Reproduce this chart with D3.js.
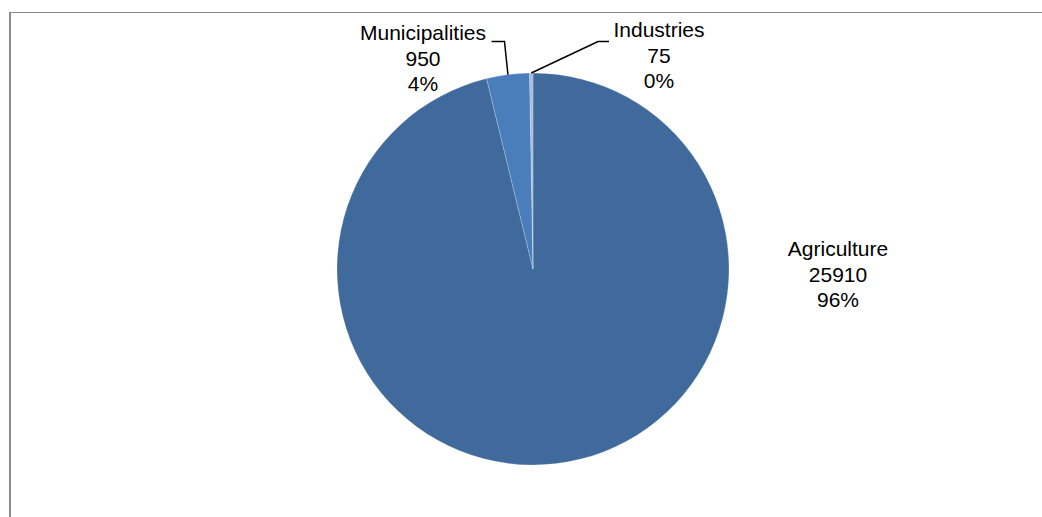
<!DOCTYPE html>
<html>
<head>
<meta charset="utf-8">
<script src="https://cdn.jsdelivr.net/npm/d3@7"></script>
<style>
  html, body { margin: 0; padding: 0; background: #fff; }
  svg { display: block; }
  text { font-family: "Liberation Sans", Arial, sans-serif; font-size: 21px; fill: #000; }
</style>
</head>
<body>
<svg id="chart" width="1042" height="517"></svg>
<script>
const categories = ["Agriculture", "Municipalities", "Industries"];
const values = [25910, 950, 75];
const percentLabels = ["96%", "4%", "0%"];
const colors = ["#406a9c", "#4a7ebb", "#a7bbdc"];

const width = 1042, height = 517;
const cx = 533, cy = 269, radius = 196;

const svg = d3.select("#chart");

// Frame
svg.append("line").attr("x1", 9).attr("x2", width).attr("y1", 12.5).attr("y2", 12.5)
  .attr("stroke", "#888").attr("stroke-width", 1);
svg.append("line").attr("x1", 10).attr("x2", 10).attr("y1", 12).attr("y2", height)
  .attr("stroke", "#888").attr("stroke-width", 2);

const data = categories.map((c, i) => ({ name: c, value: values[i], pct: percentLabels[i], color: colors[i] }));

const pie = d3.pie().sort(null).value(d => d.value).startAngle(0).endAngle(2 * Math.PI);
const arcs = pie(data);
const arc = d3.arc().innerRadius(0).outerRadius(radius);
const edgeArc = d3.arc().innerRadius(radius).outerRadius(radius);

const g = svg.append("g").attr("transform", `translate(${cx},${cy})`);

g.selectAll("path.slice").data(arcs).enter().append("path")
  .attr("class", "slice")
  .attr("d", arc)
  .attr("fill", d => d.data.color)
  .attr("stroke", "#ffffff")
  .attr("stroke-opacity", 0.35)
  .attr("stroke-width", 0.6);

// Label layout (relative to pie center): anchor of text block and leader elbow
const labelLayout = {
  "Agriculture":   { tx: 305, ty: -20, leader: null },
  "Municipalities":{ tx: -110, ty: -236, leader: { ex: -28.5, ey: -227.5, hx: -41.5 } },
  "Industries":    { tx: 126, ty: -239, leader: { ex: 65, ey: -227.5, hx: 76 } }
};
const lineH = 25.3;

arcs.forEach(a => {
  const L = labelLayout[a.data.name];
  if (L.leader) {
    const p = edgeArc.centroid(a);
    g.append("polyline")
      .attr("points", [[p[0], p[1]], [L.leader.ex, L.leader.ey], [L.leader.hx, L.leader.ey]].map(q => q.join(",")).join(" "))
      .attr("fill", "none").attr("stroke", "#000").attr("stroke-width", 1.5);
  }
  const t = g.append("text").attr("text-anchor", "middle")
    .attr("x", L.tx).attr("y", L.ty);
  [a.data.name, String(a.data.value), a.data.pct].forEach((s, i) => {
    t.append("tspan").attr("x", L.tx).attr("dy", i === 0 ? "0.35em" : lineH).text(s);
  });
});
</script>
</body>
</html>
